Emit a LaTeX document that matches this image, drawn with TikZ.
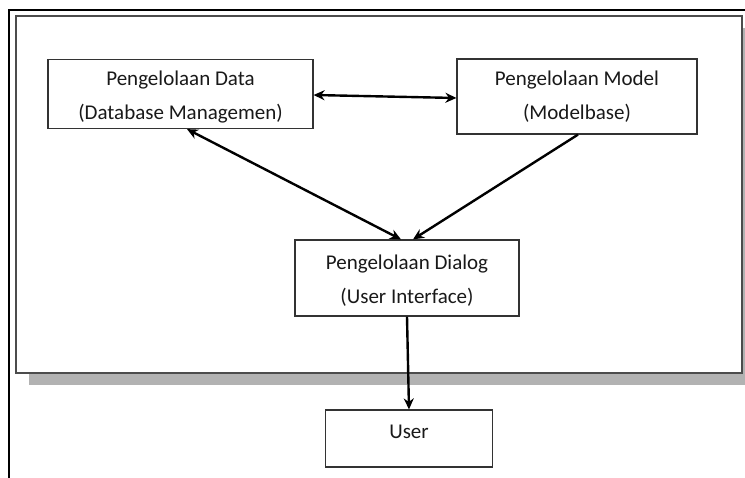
\documentclass[tikz,border=0pt]{standalone}
\usepackage{fontspec}
\setmainfont{Carlito}
\usetikzlibrary{arrows.meta}
\begin{document}
\begin{tikzpicture}[x=1pt,y=-1pt,
  box/.style={draw=black!80,line width=1.2pt,fill=white,inner sep=0pt,align=center,
    font=\fontsize{21}{34}\selectfont,text=black!90},
  lbl/.style={inner sep=0pt,font=\fontsize{21}{34}\selectfont,text=black!90},
  conn/.style={line width=2.4pt,-{Stealth[length=11pt,width=10pt]}},
  conn2/.style={line width=2.4pt,{Stealth[length=11pt,width=10pt]}-{Stealth[length=11pt,width=10pt]}}]
\useasboundingbox (0,0) rectangle (745,478);
\fill[white] (0,0) rectangle (745,478);
% outer frame
\draw[line width=1.6pt] (9,478) -- (9,10) -- (745,10);
% shadow
\fill[black!30] (29,28) rectangle (755,385);
% inner box
\draw[draw=black!70,line width=1.2pt,fill=white] (16,16) rectangle (742,373);
% nodes
\node[box,minimum width=265pt,minimum height=69pt] (data) at (180.5,94) {};
\node[lbl,align=center] at (180.5,97) {Pengelolaan Data\\(Database Managemen)};
\node[box,minimum width=240pt,minimum height=75pt] (model) at (577,96.5) {};
\node[lbl,align=center] at (577,97) {Pengelolaan Model\\(Modelbase)};
\node[box,minimum width=224pt,minimum height=76pt] (dialog) at (407,278) {};
\node[lbl,align=center] at (407,281) {Pengelolaan Dialog\\(User Interface)};
\node[box,minimum width=167pt,minimum height=57pt] (user) at (409,438.5) {};
\node[lbl] (usertext) at (409,432) {User};
% connectors
\draw[conn2] (data.east |- 0,95) -- (model.west |- 0,98);
\draw[conn2] (data.south -| 187,0) -- (dialog.north -| 401,0);
\draw[conn] (model.south -| 578,0) -- (dialog.north -| 413,0);
\draw[conn] (dialog.south) -- (user.north);
\end{tikzpicture}
\end{document}
